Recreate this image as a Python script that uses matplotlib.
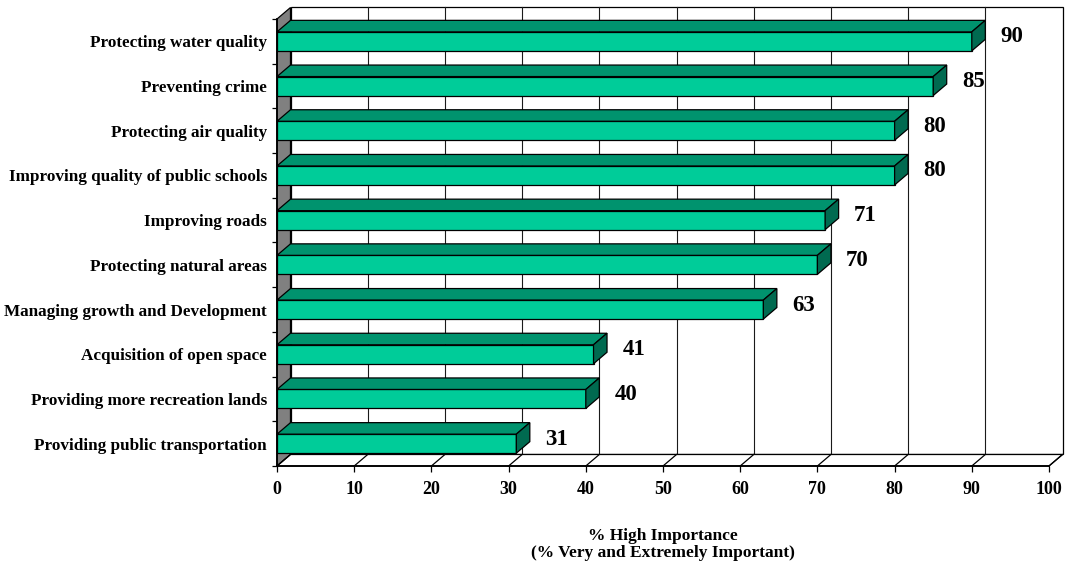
import matplotlib
matplotlib.use("Agg")
import matplotlib.pyplot as plt
from matplotlib.patches import Polygon, Rectangle
from matplotlib.ticker import FixedLocator

# Survey results: share of respondents rating each issue highly important
categories = [
    "Protecting water quality",
    "Preventing crime",
    "Protecting air quality",
    "Improving quality of public schools",
    "Improving roads",
    "Protecting natural areas",
    "Managing growth and Development",
    "Acquisition of open space",
    "Providing more recreation lands",
    "Providing public transportation",
]
values = [90, 85, 80, 80, 71, 70, 63, 41, 40, 31]
x_ticks = [0, 10, 20, 30, 40, 50, 60, 70, 80, 90, 100]
x_title = ["% High Importance", "(% Very and Extremely Important)"]

FRONT = "#00CC99"
TOP = "#00936E"
SIDE = "#006A50"
WALL = "#808080"
SERIF = "Liberation Serif"

W, H = 1066, 572
fig = plt.figure(figsize=(W / 100, H / 100), dpi=100)
fig.patch.set_facecolor("white")

# Front plane of the pseudo-3D plot area (pixel geometry)
x0_px, x1_px, top_px, bot_px = 277, 1049, 19, 466
ax = fig.add_axes([x0_px / W, (H - bot_px) / H,
                   (x1_px - x0_px) / W, (bot_px - top_px) / H])
n = len(categories)
ax.set_xlim(0, 100)
ax.set_ylim(n - 0.5, -0.5)

# Depth offset of the 3D box, converted to data units
px_x = (x1_px - x0_px) / 100.0
px_y = (bot_px - top_px) / n
DX = 13.5 / px_x
DY = 11.5 / px_y
y_top, y_bot = -0.5, n - 0.5

edge = dict(edgecolor="black", linewidth=0.9, clip_on=False)

# Back wall with vertical gridlines
ax.add_patch(Rectangle((DX, y_top - DY), 100, n, facecolor="white", zorder=0, **edge))
for v in x_ticks[1:-1]:
    ax.plot([v + DX, v + DX], [y_bot - DY, y_top - DY], color="#1a1a1a",
            lw=0.8, clip_on=False, zorder=0.5)

# Left side wall
ax.add_patch(Polygon([(0, y_top), (0, y_bot), (DX, y_bot - DY), (DX, y_top - DY)],
                     closed=True, facecolor=WALL, zorder=1, **edge))

# Floor with depth lines at each tick
ax.add_patch(Polygon([(0, y_bot), (100, y_bot), (100 + DX, y_bot - DY), (DX, y_bot - DY)],
                     closed=True, facecolor="white", zorder=1, **edge))
for v in x_ticks:
    ax.plot([v, v + DX], [y_bot, y_bot - DY], color="black", lw=0.9,
            clip_on=False, zorder=1.5)

# Bars: front face, top face, right side face
bh = 0.425
ax.barh(range(n), values, height=bh, left=0, color=FRONT,
        edgecolor="black", linewidth=0.9, zorder=3)
for i, v in enumerate(values):
    yt = i - bh / 2
    yb = i + bh / 2
    ax.add_patch(Polygon([(0, yt), (v, yt), (v + DX, yt - DY), (DX, yt - DY)],
                         closed=True, facecolor=TOP, zorder=3, **edge))
    ax.add_patch(Polygon([(v, yt), (v, yb), (v + DX, yb - DY), (v + DX, yt - DY)],
                         closed=True, facecolor=SIDE, zorder=3, **edge))
    ax.text(v + 5.2, i - 0.1, str(v), ha="center", va="center",
            fontsize=16.5, fontweight="bold", family=SERIF, zorder=4)

# Axes: spines, ticks and labels
for s in ("top", "right"):
    ax.spines[s].set_visible(False)
for s in ("left", "bottom"):
    ax.spines[s].set_linewidth(1.3)
    ax.spines[s].set_zorder(2)

ax.set_xticks(x_ticks)
ax.set_xticklabels([str(t) for t in x_ticks], fontsize=13, fontweight="bold",
                   family=SERIF)
ax.tick_params(axis="x", length=4.3, width=0.9, pad=6.5, direction="out")

ax.set_yticks(range(n))
ax.set_yticklabels(categories, fontsize=12.3, fontweight="bold", family=SERIF)
ax.tick_params(axis="y", which="major", length=0, pad=7.2)
ax.yaxis.set_minor_locator(FixedLocator([k - 0.5 for k in range(n + 1)]))
ax.tick_params(axis="y", which="minor", length=3.5, width=0.9, direction="out")

cx = (x0_px + x1_px) / 2 / W
fig.text(cx, 1 - 540 / H, x_title[0], ha="center", va="baseline",
         fontsize=12.5, fontweight="bold", family=SERIF)
fig.text(cx, 1 - 557 / H, x_title[1], ha="center", va="baseline",
         fontsize=12.5, fontweight="bold", family=SERIF)

fig.savefig("out.png", dpi=100, facecolor="white")
